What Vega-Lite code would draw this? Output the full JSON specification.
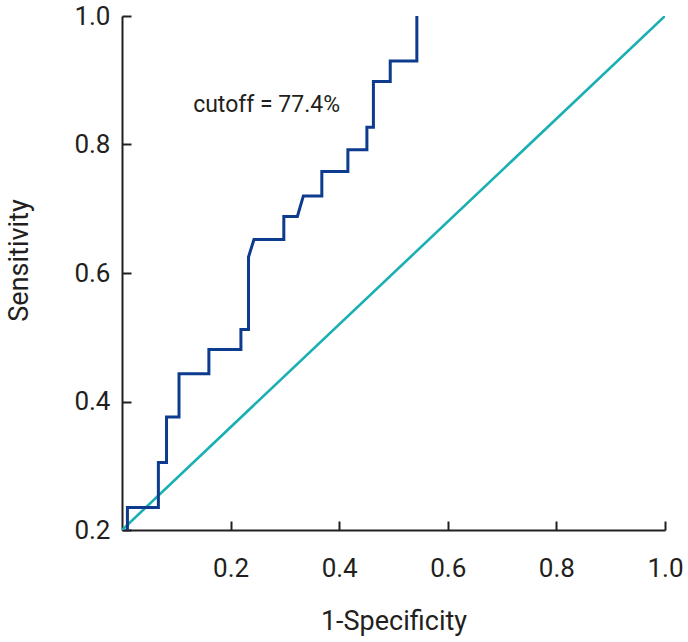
{
  "$schema": "https://vega.github.io/schema/vega-lite/v6.json",
  "width": 543,
  "height": 514,
  "autosize": {"type": "none"},
  "padding": {"left": 122, "top": 16, "right": 23, "bottom": 112},
  "background": "white",
  "config": {
    "view": {"stroke": null},
    "font": "Roboto",
    "axis": {
      "grid": false,
      "domainColor": "#231F20",
      "domainWidth": 2,
      "tickColor": "#231F20",
      "tickWidth": 2,
      "labelColor": "#231F20",
      "titleColor": "#231F20",
      "labelFont": "Roboto",
      "titleFont": "Roboto",
      "labelFontSize": 26,
      "titleFontSize": 27,
      "titleFontWeight": "normal",
      "labelFlush": false,
      "labelOverlap": false
    }
  },
  "datasets": {
    "roc": [
      {"order": 1, "fpr": 0.01, "tpr": 0.2},
      {"order": 2, "fpr": 0.01, "tpr": 0.235},
      {"order": 3, "fpr": 0.067, "tpr": 0.235},
      {"order": 4, "fpr": 0.067, "tpr": 0.305},
      {"order": 5, "fpr": 0.082, "tpr": 0.305},
      {"order": 6, "fpr": 0.082, "tpr": 0.376},
      {"order": 7, "fpr": 0.105, "tpr": 0.376},
      {"order": 8, "fpr": 0.105, "tpr": 0.443},
      {"order": 9, "fpr": 0.16, "tpr": 0.443},
      {"order": 10, "fpr": 0.16, "tpr": 0.481},
      {"order": 11, "fpr": 0.219, "tpr": 0.481},
      {"order": 12, "fpr": 0.219, "tpr": 0.512},
      {"order": 13, "fpr": 0.233, "tpr": 0.512},
      {"order": 14, "fpr": 0.233, "tpr": 0.625},
      {"order": 15, "fpr": 0.243, "tpr": 0.652},
      {"order": 16, "fpr": 0.298, "tpr": 0.652},
      {"order": 17, "fpr": 0.298, "tpr": 0.688},
      {"order": 18, "fpr": 0.323, "tpr": 0.688},
      {"order": 19, "fpr": 0.334, "tpr": 0.72},
      {"order": 20, "fpr": 0.368, "tpr": 0.72},
      {"order": 21, "fpr": 0.368, "tpr": 0.758},
      {"order": 22, "fpr": 0.416, "tpr": 0.758},
      {"order": 23, "fpr": 0.416, "tpr": 0.792},
      {"order": 24, "fpr": 0.451, "tpr": 0.792},
      {"order": 25, "fpr": 0.451, "tpr": 0.827},
      {"order": 26, "fpr": 0.463, "tpr": 0.827},
      {"order": 27, "fpr": 0.463, "tpr": 0.898},
      {"order": 28, "fpr": 0.494, "tpr": 0.898},
      {"order": 29, "fpr": 0.494, "tpr": 0.93},
      {"order": 30, "fpr": 0.543, "tpr": 0.93},
      {"order": 31, "fpr": 0.543, "tpr": 1.0}
    ],
    "ref": [
      {"order": 1, "fpr": 0, "tpr": 0.2},
      {"order": 2, "fpr": 1, "tpr": 1.0}
    ],
    "note": [
      {"fpr": 0.131, "tpr": 0.851, "label": "cutoff = 77.4%"}
    ]
  },
  "layer": [
    {
      "data": {"name": "ref"},
      "mark": {"type": "line", "color": "#1AAFB2", "strokeWidth": 2.6, "clip": true},
      "encoding": {
        "x": {
          "field": "fpr", "type": "quantitative",
          "scale": {"domain": [0, 1], "nice": false, "zero": false},
          "axis": {
            "title": "1-Specificity",
            "values": [0.2, 0.4, 0.6, 0.8, 1.0],
            "format": ".1f",
            "tickSize": -9,
            "labelPadding": 34,
            "titleY": 99,
            "titleBaseline": "alphabetic"
          }
        },
        "y": {
          "field": "tpr", "type": "quantitative",
          "scale": {"domain": [0.2, 1], "nice": false, "zero": false},
          "axis": {
            "title": "Sensitivity",
            "values": [0.2, 0.4, 0.6, 0.8, 1.0],
            "format": ".1f",
            "tickSize": -9,
            "labelPadding": 21,
            "titleX": -95,
            "titleY": 244,
            "titleBaseline": "alphabetic"
          }
        },
        "order": {"field": "order", "type": "quantitative"}
      }
    },
    {
      "data": {"name": "roc"},
      "mark": {"type": "line", "color": "#0D3B8E", "strokeWidth": 3, "strokeJoin": "miter"},
      "encoding": {
        "x": {"field": "fpr", "type": "quantitative"},
        "y": {"field": "tpr", "type": "quantitative"},
        "order": {"field": "order", "type": "quantitative"}
      }
    },
    {
      "data": {"name": "note"},
      "mark": {"type": "text", "align": "left", "baseline": "alphabetic", "fontSize": 23, "color": "#231F20", "font": "Roboto"},
      "encoding": {
        "x": {"field": "fpr", "type": "quantitative"},
        "y": {"field": "tpr", "type": "quantitative"},
        "text": {"field": "label"}
      }
    }
  ]
}
